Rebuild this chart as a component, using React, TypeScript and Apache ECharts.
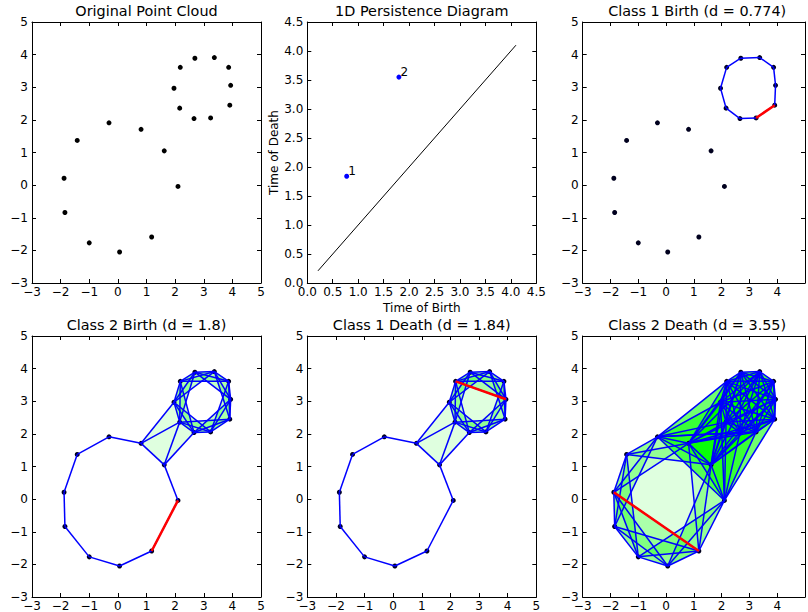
import React, { useEffect, useRef } from "react";
import * as echarts from "echarts";

const xs = [-1.88, -1.85, -1.0, 0.06, 1.18, 2.1, 1.62, 0.81, -0.31, -1.42, 1.96, 2.16, 2.66, 3.24, 3.91, 3.94, 3.87, 3.37, 2.69, 2.18];
const ys = [0.21, -0.84, -1.77, -2.05, -1.59, -0.04, 1.05, 1.71, 1.91, 1.37, 2.97, 2.36, 2.04, 2.06, 2.45, 3.06, 3.61, 3.91, 3.89, 3.61];
const titles = ["Original Point Cloud", "1D Persistence Diagram", "Class 1 Birth (d = 0.774)", "Class 2 Birth (d = 1.8)", "Class 1 Death (d = 1.84)", "Class 2 Death (d = 3.55)"];
// scale index per panel; -1 = no complex drawn
const cutoffs = [-1, -1, 0.78, 1.805, 1.85, 3.555];
const redEdges: (number[] | null)[] = [null, null, [13, 14], [4, 5], [19, 15], [0, 4]];
const diagPoints = [[0.774, 1.84, "1"], [1.8, 3.55, "2"]];
const diagLine = [[0.21, 0.21], [4.1, 4.1]];

const FONT = "DejaVu Sans";
const lefts = [32, 307.3, 582.7];
const tops = [22, 336];
const W = 229;
const H = 261;
const FILL = "rgba(0,255,0,0.125)";

const dist = (a: number, b: number) => Math.hypot(xs[a] - xs[b], ys[a] - ys[b]);

function edgesAt(d: number) {
  const out: number[][] = [];
  for (let i = 0; i < xs.length; i++) for (let j = i + 1; j < xs.length; j++) if (dist(i, j) <= d) out.push([i, j]);
  return out;
}
function trianglesAt(d: number) {
  const out: number[][] = [];
  for (let i = 0; i < xs.length; i++)
    for (let j = i + 1; j < xs.length; j++)
      for (let k = j + 1; k < xs.length; k++)
        if (dist(i, j) <= d && dist(j, k) <= d && dist(i, k) <= d) out.push([i, j, k]);
  return out;
}

function buildOption() {
  const grid: any[] = [];
  const xAxis: any[] = [];
  const yAxis: any[] = [];
  const title: any[] = [];
  const series: any[] = [];
  const line = { show: true, onZero: false, lineStyle: { color: "#000", width: 1 } };
  const tick = { show: true, inside: true, length: 4, lineStyle: { color: "#000", width: 1 } };

  titles.forEach((t, p) => {
    const c = p % 3;
    const r = Math.floor(p / 3);
    const isDiag = p === 1;
    grid.push({ left: lefts[c], top: tops[r], width: W, height: H, containLabel: false });
    const min = isDiag ? 0 : -3;
    const max = isDiag ? 4.5 : 5;
    const interval = isDiag ? 0.5 : 1;
    const fmt = (v: number) => (isDiag ? v.toFixed(1) : String(v).replace("-", "\u2212"));
    const fmtX = (v: number) => (c === 2 && v === 5 ? "" : fmt(v));
    const label = { show: true, color: "#000", fontFamily: FONT, fontSize: 12, margin: 4, hideOverlap: false, showMinLabel: true, showMaxLabel: true };
    const common = { type: "value", min, max, interval, gridIndex: p, splitLine: { show: false }, axisLine: line, axisTick: tick };
    xAxis.push({
      ...common,
      position: "bottom",
      axisLabel: { ...label, margin: 3, formatter: fmtX },
      ...(isDiag ? { name: "Time of Birth", nameLocation: "middle", nameGap: 19, nameTextStyle: { color: "#000", fontFamily: FONT, fontSize: 12 } } : {}),
    });
    xAxis.push({ ...common, position: "top", axisLabel: { show: false } });
    yAxis.push({
      ...common,
      position: "left",
      axisLabel: { ...label, formatter: fmt },
      ...(isDiag ? { name: "Time of Death", nameLocation: "middle", nameGap: 25, nameTextStyle: { color: "#000", fontFamily: FONT, fontSize: 12 } } : {}),
    });
    yAxis.push({ ...common, position: "right", axisLabel: { show: false } });
    title.push({
      text: t,
      left: lefts[c] + W / 2,
      top: tops[r] - 18,
      padding: 0,
      textAlign: "center",
      textStyle: { color: "#000", fontFamily: FONT, fontSize: 14.4, fontWeight: "normal" },
    });

    const xi = p * 2;
    const yi = p * 2;
    const base = { xAxisIndex: xi, yAxisIndex: yi, silent: true };
    if (isDiag) {
      series.push({ ...base, type: "line", data: diagLine, showSymbol: false, lineStyle: { color: "#000", width: 1 } });
      series.push({
        ...base,
        type: "scatter",
        data: diagPoints.map((d) => ({ value: [d[0], d[1]], name: d[2] })),
        symbolSize: 5,
        itemStyle: { color: "#0000ff", opacity: 1 },
        label: { show: true, formatter: "{b}", position: [4, -9], color: "#000", fontFamily: FONT, fontSize: 12 },
      });
      return;
    }
    const d = cutoffs[p];
    if (d > 0) {
      series.push({
        ...base,
        type: "custom",
        clip: false,
        data: trianglesAt(d),
        encode: { x: [], y: [] },
        renderItem: (_: any, api: any) => {
          const pts = [api.value(0), api.value(1), api.value(2)].map((i: number) => api.coord([xs[i], ys[i]]));
          return { type: "polygon", shape: { points: pts }, style: { fill: FILL, stroke: null } };
        },
      });
    }
    series.push({
      ...base,
      type: "scatter",
      data: xs.map((x, i) => [x, ys[i]]),
      symbolSize: 5,
      itemStyle: { color: d > 0 ? "#00001e" : "#000", opacity: 1 },
      z: 3,
    });
    const edgeSeries = (data: number[][], color: string, width: number, z: number) => ({
      ...base,
      type: "custom",
      clip: false,
      z,
      data,
      encode: { x: [], y: [] },
      renderItem: (_: any, api: any) => {
        const a = api.coord([xs[api.value(0)], ys[api.value(0)]]);
        const b = api.coord([xs[api.value(1)], ys[api.value(1)]]);
        return { type: "line", shape: { x1: a[0], y1: a[1], x2: b[0], y2: b[1] }, style: { stroke: color, lineWidth: width, fill: null } };
      },
    });
    if (d > 0) {
      series.push(edgeSeries(edgesAt(d), "#0000ff", 1.5, 4));
      series.push(edgeSeries([redEdges[p] as number[]], "#ff0000", 2.5, 5));
    }
  });

  return { animation: false, backgroundColor: "#fff", grid, xAxis, yAxis, title, series };
}

export default function App() {
  const ref = useRef<HTMLDivElement>(null);
  useEffect(() => {
    document.body.style.margin = "0";
    const chart = echarts.init(ref.current!, null, { renderer: "svg" });
    chart.setOption(buildOption());
    return () => chart.dispose();
  }, []);
  return <div ref={ref} style={{ position: "fixed", left: 0, top: 0, width: 808, height: 612, overflow: "hidden" }} />;
}
